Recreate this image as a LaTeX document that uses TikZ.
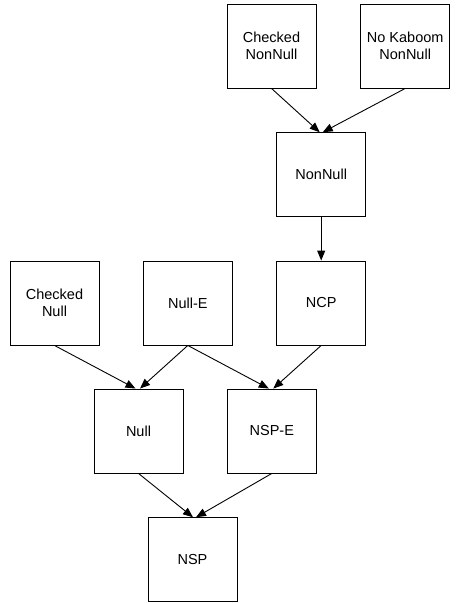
\documentclass[tikz,border=0pt]{standalone}
\usepackage{fontspec}
\setmainfont{Liberation Sans}
\usetikzlibrary{arrows.meta}
\begin{document}
\begin{tikzpicture}[x=1pt,y=-1pt,
  box/.style={draw=black,line width=0.9pt,minimum width=89pt,minimum height=84pt,inner sep=0pt,align=center,font=\fontsize{14.5}{16.8}\selectfont},
  arr/.style={draw=black,line width=0.9pt,-{Triangle[length=10pt,width=8pt]}}]
\useasboundingbox (0,0) rectangle (456,603);
\node[box] (cnn) at (271.5,46) {Checked\\NonNull};
\node[box] (nk) at (405.2,46) {No Kaboom\\NonNull};
\node[box] (nn) at (321.2,174.7) {NonNull};
\node[box] (cn) at (54.5,303) {Checked\\Null};
\node[box] (ne) at (187.8,303) {Null-E};
\node[box] (ncp) at (321.2,303) {NCP};
\node[box] (null) at (138.5,431) {Null};
\node[box] (nspe) at (271.8,431) {NSP-E};
\node[box] (nsp) at (192.5,559.7) {NSP};
\draw[arr] (cnn.south) -- ([xshift=-1.5pt]nn.north);
\draw[arr] (nk.south) -- ([xshift=1.5pt]nn.north);
\draw[arr] (nn.south) -- (ncp.north);
\draw[arr] (cn.south) -- ([xshift=-3pt]null.north);
\draw[arr] (ne.south) -- ([xshift=1.5pt]null.north);
\draw[arr] (ne.south) -- ([xshift=-3pt]nspe.north);
\draw[arr] (ncp.south) -- ([xshift=1.5pt]nspe.north);
\draw[arr] (null.south) -- ([xshift=0.5pt]nsp.north);
\draw[arr] (nspe.south) -- ([xshift=3.5pt]nsp.north);
\end{tikzpicture}
\end{document}
